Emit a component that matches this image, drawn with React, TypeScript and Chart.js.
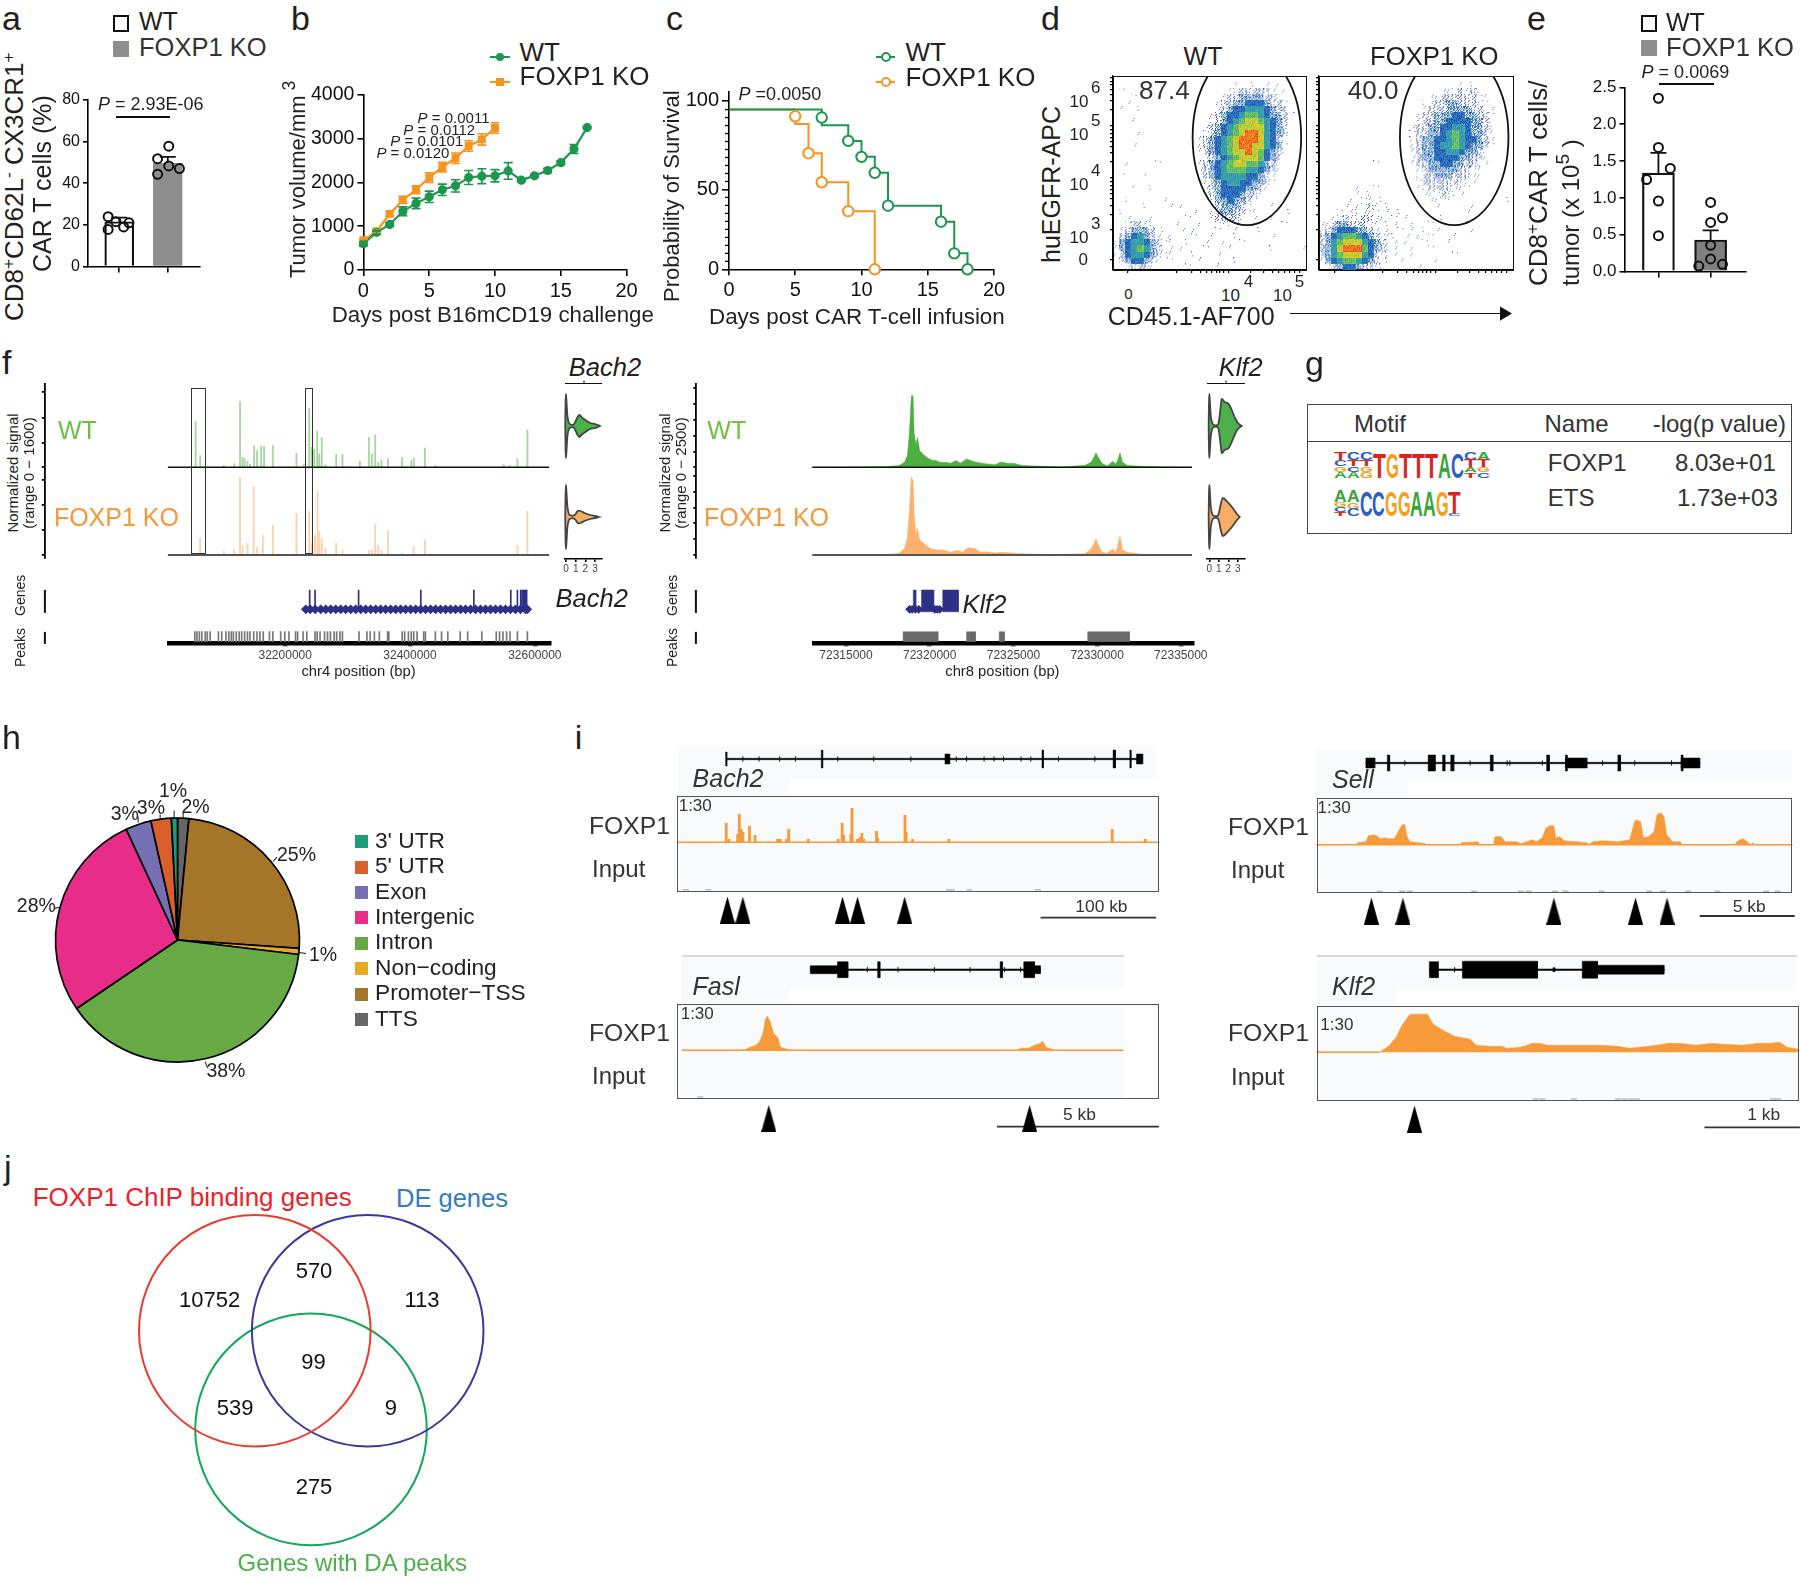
import React, { useEffect, useRef } from 'react';
import { Chart, registerables } from 'chart.js';
Chart.register(...registerables);

const FONT = '"Liberation Sans", Arial, Helvetica, sans-serif';
Chart.defaults.font.family = FONT;
document.body.style.margin = '0';

// ---------- panel a ----------
const aMeans = [21.5, 49.7];
const aErr = [2, 2.9];
const aWtX = [0.77, 0.93, 1.2, 1.09, 0.77];
const aWtY = [23.9, 21.5, 21, 19, 17.8];
const aKoX = [2.02, 1.79, 2.02, 2.24, 1.79];
const aKoY = [57.8, 51.8, 48.3, 47, 44.3];
// ---------- panel b ----------
const bDaysWt = [0, 1, 2, 3, 4, 5, 6, 7, 8, 9, 10, 11, 12, 13, 14, 15, 16, 17];
const bWt = [600, 860, 1040, 1340, 1520, 1670, 1830, 1920, 2110, 2140, 2150, 2260, 2050, 2150, 2270, 2450, 2760, 3250];
const bWtErr = [50, 40, 40, 100, 120, 130, 130, 140, 160, 170, 140, 190, 30, 30, 50, 40, 100, 20];
const bDaysKo = [0, 1, 2, 3, 4, 5, 6, 7, 8, 9, 10];
const bKo = [680, 880, 1280, 1600, 1830, 2110, 2350, 2550, 2830, 2980, 3240];
const bKoErr = [30, 30, 50, 80, 90, 110, 110, 120, 120, 130, 120];
// ---------- panel c ----------
const cWtStepX = [0, 7, 9, 10, 11, 12, 16, 17, 18];
const cWtStepY = [100, 90.2, 80.4, 70.4, 60.4, 39.8, 29.8, 10, 0];
const cWtMarkX = [7, 9, 10, 11, 12, 16, 17, 18];
const cWtMarkY = [95, 80.4, 70.4, 60.4, 39.8, 29.8, 10, 0];
const cKoStepX = [0, 5, 6, 7, 9, 11];
const cKoStepY = [100, 91, 72.7, 54.5, 36.4, 0];
const cKoMarkX = [5, 6, 7, 9, 11];
const cKoMarkY = [95.8, 72.7, 54.5, 36.4, 0];
const cMajorTicks = [0, 50, 105.4];
const cMinorTicks = [5, 10, 15, 20, 25, 30, 35, 40, 45, 55, 60, 65, 70, 75, 80, 85, 90, 95, 100];
// ---------- panel d: density level per cell, read by eye (32 x 32) ----------
const dWtRows = [
  '................................',
  '....................1..1.1.1....',
  '.1.................11222221.1...',
  '...1..............1223333221....',
  '..1..............122334443221...',
  '.1..1............123445554322...',
  '................1234456654332.1.',
  '...1............1234567765432...',
  '...............12345677775432...',
  '....1..........12345678875432...',
  '..............123456788875421...',
  '...1..........123456788775431...',
  '..............123456778764321...',
  '...............1234567776432....',
  '..1....1......12345677665321....',
  '..............12345666554321....',
  '.1...1........1234555544321.....',
  '...............123455443321.....',
  '...1..1........12344443321......',
  '...............1234443221.......',
  '..1.....1.......13343321....1...',
  '.....1...1.1.....233321...1.....',
  '.1...........1..12332211.....1..',
  '..1...1.....1...122221.1..1.....',
  '..12211...1...1..1111..1....1...',
  '.123332.1..1.1...1..1...1.......',
  '.2345321.1...1..1...1.....1.....',
  '1345543211..1..1..1..1..........',
  '1345653211.1...1...1......1....1',
  '1245543211...1...1..............',
  '.2344321.1....1.....1...........',
  '..12221.....1....1..............',
];
const dKoRows = [
  '................................',
  '.......................1.1......',
  '....................1112121.....',
  '..................1122222211....',
  '.................11223322211....',
  '.................122233332211...',
  '................1223334433221...',
  '................1223344443321...',
  '...............12233445543321...',
  '...............12233456543321...',
  '...............12334456544321...',
  '...............12334556543321...',
  '...............1233445543321....',
  '...............1233444433221....',
  '.........1.....1223344332211....',
  '................12333332211.....',
  '................12233322211.....',
  '................1222222111......',
  '......1..1......112222111.......',
  '......1.1........1112111........',
  '.....1.11.1.......1111.........1',
  '....1.1121.1.......1.....1......',
  '...1.11111.1.1..........1.......',
  '..112112211.1.1.....1...........',
  '1123322211.11..1..1.....1.......',
  '1234443321.1.1.1.1.1.....1......',
  '2345665432111.1.1.1...1.........',
  '2356777543211.1..1...1..........',
  '2357888643211..1..1.............',
  '2356777542111..1......1.........',
  '1345665432.1.1.....1............',
  '.1234432211.....1...............',
];
const dTickX = [2.5, 10.5, 13, 14.5, 15.6, 16.4, 17.1, 17.7, 18.4, 19.2, 22.8, 24.9, 26.4, 27.5, 28.5, 29.3, 30.1, 31];
const dTickY = [1.65, 6.6, 9.2, 10.7, 11.8, 12.6, 13.3, 13.9, 14.5, 15.2, 17.8, 19.3, 20.4, 21.2, 21.9, 22.5, 23.1, 23.8, 26.4, 27.9, 29, 29.8, 30.5, 31.1, 31.8];
// ---------- panel e ----------
const eMeans = [1.335, 0.427];
const eErr = [0.275, 0.13];
const eWtX = [1, 1, 1.227, 0.773, 1, 1];
const eWtY = [2.354, 1.685, 1.4, 1.248, 0.957, 0.485];
const eKoX = [2, 2.227, 2, 2, 1.773, 2, 2.227];
const eKoY = [0.937, 0.728, 0.665, 0.354, 0.073, 0.17, 0.097];
// ---------- panel f, Bach2 (kb on chr4) ----------
const fBachWtX = [32056.5, 32063.8, 32101.7, 32118.3, 32127.6, 32131.6, 32134.9, 32139.5, 32143.5, 32150.2, 32154.8, 32161.5, 32166.1, 32180.1, 32218, 32229.9, 32238.5, 32242.5, 32246.5, 32251.2, 32254.5, 32258.5, 32264.5, 32281.7, 32291.7, 32319.6, 32334.2, 32338.9, 32344.2, 32348.8, 32354.2, 32364.8, 32387.4, 32402, 32406, 32423.9, 32440.6, 32550.2, 32560.2, 32572.1, 32588.1];
const fBachWtY = [925, 236, 40, 68, 1330, 200, 170, 120, 54, 440, 338, 420, 420, 440, 284, 54, 1200, 405, 370, 740, 270, 608, 54, 256, 256, 120, 608, 270, 655, 100, 150, 170, 200, 135, 190, 390, 34, 54, 34, 170, 756];
const fBachKoX = [32063.8, 32101.7, 32118.3, 32127.6, 32131.6, 32139.5, 32149.5, 32154.8, 32164.1, 32180.1, 32218, 32238.5, 32242.5, 32247.8, 32251.8, 32254.5, 32258.5, 32264.5, 32281.7, 32291.7, 32334.2, 32338.9, 32344.2, 32348.8, 32354.2, 32364.8, 32387.4, 32406, 32423.9, 32572.1, 32588.1];
const fBachKoY = [338, 80, 100, 1566, 190, 236, 1384, 150, 405, 594, 844, 878, 236, 405, 1282, 472, 338, 135, 236, 100, 100, 100, 620, 200, 100, 506, 34, 170, 304, 190, 890];
const fBachPeaks = [32055.1, 32058.5, 32062.4, 32066.4, 32071.8, 32075.1, 32079.7, 32093, 32098.3, 32105, 32109.6, 32113.6, 32116.9, 32121.6, 32126.2, 32130.2, 32134.9, 32139.5, 32143.5, 32149.5, 32154.8, 32159.5, 32164.8, 32174.7, 32180.1, 32192.7, 32199.3, 32206, 32216.6, 32219.9, 32228.6, 32234.6, 32247.8, 32251.2, 32255.8, 32263.1, 32267.8, 32272.4, 32278.4, 32282.4, 32287.7, 32291.7, 32318.3, 32330.9, 32336.2, 32342.9, 32350.8, 32364.1, 32366.1, 32387.4, 32391.4, 32397.4, 32402, 32406, 32411.3, 32421.9, 32424.6, 32440.6, 32450.5, 32460.5, 32480.4, 32492.4, 32515, 32538.2, 32543.5, 32548.9, 32554.8, 32560.2, 32572.1, 32588.1];
const fBachExons = [32239.2, 32247.8, 32317.6, 32417.3, 32502.3, 32561.5, 32572.1, 32577.4, 32579.5, 32581.5, 32583.5, 32585.6, 32586.9];
const fBachGeneMarks = [32233, 32240, 32248, 32257, 32265, 32273, 32281, 32289, 32297, 32305, 32313, 32321, 32329, 32337, 32345, 32353, 32361, 32369, 32377, 32385, 32393, 32401, 32409, 32417, 32425, 32433, 32441, 32449, 32457, 32465, 32473, 32481, 32489, 32497, 32505, 32513, 32521, 32529, 32537, 32545, 32553, 32561, 32569, 32577, 32585, 32588];
const fBachTicks = [32200, 32400, 32600];
// ---------- panel f, Klf2 (kb on chr8) ----------
const fKlfWtX = [72312.98, 72315.61, 72317.32, 72318.17, 72318.49, 72318.66, 72318.78, 72318.9, 72319, 72319.07, 72319.17, 72319.27, 72319.39, 72319.63, 72319.88, 72320.12, 72320.37, 72320.61, 72320.98, 72321.22, 72321.59, 72321.83, 72322.2, 72322.56, 72322.93, 72323.42, 72323.9, 72324.27, 72324.63, 72325, 72325.49, 72326.1, 72326.83, 72327.81, 72328.54, 72329.27, 72329.63, 72329.81, 72329.93, 72330.07, 72330.29, 72330.61, 72330.93, 72331.1, 72331.22, 72331.37, 72331.51, 72331.83, 72332.68, 72334.15, 72335.68];
const fKlfWtY = [0, 10, 21, 53, 158, 368, 1053, 2264, 2264, 1053, 737, 948, 527, 400, 295, 232, 211, 158, 158, 126, 211, 126, 263, 190, 147, 105, 84, 168, 126, 126, 63, 42, 32, 10, 32, 63, 158, 316, 463, 316, 126, 42, 190, 105, 211, 463, 158, 53, 32, 10, 0];
const fKlfKoX = [72312.98, 72317.32, 72318.17, 72318.49, 72318.66, 72318.78, 72318.9, 72319, 72319.07, 72319.17, 72319.27, 72319.39, 72319.63, 72319.88, 72320.12, 72320.49, 72320.85, 72321.22, 72321.71, 72321.95, 72322.27, 72322.68, 72323.05, 72323.41, 72323.9, 72324.27, 72324.76, 72325.37, 72326.1, 72327.07, 72329.27, 72329.63, 72329.81, 72329.93, 72330.07, 72330.29, 72330.61, 72330.93, 72331.1, 72331.22, 72331.37, 72331.51, 72331.83, 72332.68, 72335.68];
const fKlfKoY = [0, 10, 53, 210, 525, 1365, 2468, 2363, 1260, 630, 861, 473, 368, 263, 189, 158, 158, 84, 147, 84, 231, 210, 84, 105, 63, 84, 74, 42, 32, 10, 42, 189, 368, 504, 315, 84, 53, 189, 84, 263, 609, 158, 84, 21, 0];
const fKlfPeakBlocks = [[72318.41, 72320.49], [72322.2, 72322.73], [72324.15, 72324.46], [72329.44, 72331.93]];
const fKlfGeneBlocks = [[72319.02, 72319.17], [72319.51, 72320.24], [72320.78, 72321.71]];
const fKlfGeneMarks = [72318.8, 72318.95, 72319.15, 72319.35, 72320.3, 72320.45, 72320.6];
const fKlfTicks = [72315, 72320, 72325, 72330, 72335];
// violins: expression level and half-width of the density
const vExpr = {
  bachWt: [[-0.08, 0], [-0.04, 25], [0, 32], [0.05, 25], [0.15, 10], [0.3, 3], [0.5, 1.5], [0.8, 1.5], [1, 5], [1.2, 9], [1.4, 11], [1.7, 8], [2, 6], [2.5, 3], [3, 2], [3.5, 0]],
  bachKo: [[-0.08, 0], [-0.04, 25], [0, 32], [0.05, 25], [0.15, 10], [0.3, 3], [0.5, 1.5], [0.8, 1.5], [1, 3], [1.2, 6], [1.5, 6], [1.9, 4], [2.5, 2], [3, 1], [3.4, 0]],
  klfWt: [[-0.08, 0], [-0.04, 25], [0, 32], [0.05, 25], [0.15, 10], [0.3, 3], [0.5, 1], [0.9, 1.5], [1.05, 8], [1.15, 16], [1.3, 27], [1.45, 26], [1.6, 24], [1.9, 23], [2.1, 21], [2.4, 15], [2.7, 8], [3, 3], [3.4, 0]],
  klfKo: [[-0.08, 0], [-0.04, 25], [0, 32], [0.05, 25], [0.15, 10], [0.3, 3], [0.5, 1], [0.9, 1.5], [1.05, 6], [1.2, 13], [1.4, 19], [1.6, 18], [1.9, 15], [2.2, 12], [2.6, 7], [2.9, 3], [3.2, 0]],
};
// ---------- panel h ----------
const pieLabels = ['TTS', 'Promoter−TSS', 'Non−coding', 'Intron', 'Intergenic', 'Exon', "5' UTR", "3' UTR"];
const pieValues = [1.5, 24.6, 0.8, 38.6, 27.6, 3.4, 2.7, 0.8];
const pieColors = ['#666666', '#a5762a', '#e6ab22', '#67a944', '#e72c8a', '#7570b3', '#d9602a', '#1b9e77'];
const legendOrder = [7, 6, 5, 4, 3, 2, 1, 0];
// ---------- panel i ----------
const iBachX = [42.8, 45.2, 52.7, 54.1, 55.8, 57.2, 63, 67.8, 87.3, 89.7, 94.9, 96.9, 113.7, 139.7, 143.2, 144.5, 150.7, 151.7, 156.5, 158.6, 160.3, 162, 172.9, 174, 197.6, 198.6, 204.1, 235.6, 377, 405.8];
const iBachY = [19, 3, 8, 28, 13, 10, 16, 7, 3, 3, 3, 13, 3, 3, 19, 7, 8, 34, 3, 5, 9, 3, 11, 4, 27, 10, 3, 3, 13, 3];
const iBachArrows = [43.8, 57.2, 143.5, 156.5, 197.3];
const iBachInput = [7.9, 27.4, 235.6, 238, 253.4, 312.7];
const iBachGene = [[42.3, 43.3, 7], [125.1, 126.3, 9], [232.2, 236.3, 5], [316.2, 317.4, 9], [377.8, 379.8, 9], [392.3, 393.3, 9], [398, 403.4, 5]];
const iBachChev = [57.2, 71.2, 89, 102.7, 139.4, 170.5, 202.7, 242, 250.9, 266.1, 274.7, 282.9, 298, 306.5, 330.5, 362];
const iFaslX = [0.15, 1.95, 2.13, 2.26, 2.44, 2.56, 2.66, 2.74, 2.8, 2.89, 2.99, 3.13, 3.2, 3.41, 3.48, 10.49, 10.61, 10.85, 11.04, 11.22, 11.3, 11.4, 11.59, 11.65, 13.78];
const iFaslY = [0, 0, 1, 3, 5, 9, 17, 32, 34, 28, 17, 12, 3, 1, 0, 0, 2, 2, 5, 7, 9, 3, 1, 0, 0];
const iFaslArrows = [2.84, 10.89];
const iFaslInput = [0.73];
const iFaslGene = [[4.12, 4.96, 4], [4.96, 5.28, 8], [6.2, 6.27, 8], [9.98, 10.05, 8], [10.71, 11.04, 8], [11.04, 11.22, 4]];
const iFaslChev = [5.88, 6.83, 7.95, 9.05, 10.12, 10.61];
const iSellX = [0, 2.11, 2.15, 2.6, 2.73, 3.07, 3.38, 3.59, 3.79, 4.1, 4.3, 4.51, 4.65, 4.77, 4.92, 5.43, 5.74, 5.84, 7.58, 7.62, 8.5, 8.61, 9.32, 9.39, 9.73, 9.94, 10.55, 10.76, 11.37, 11.58, 11.89, 12.09, 12.3, 12.5, 12.6, 12.81, 13.05, 14.24, 14.34, 14.55, 15.06, 15.88, 16.5, 16.7, 16.8, 17.07, 17.21, 17.48, 17.77, 17.93, 18.14, 18.3, 18.44, 18.75, 19.16, 19.28, 22.03, 22.13, 22.44, 22.68, 22.85, 22.99, 23.09, 25.06];
const iSellY = [0, 0, 2, 3, 9, 10, 6, 7, 6, 6, 13, 20, 20, 8, 3, 2, 1, 0, 0, 2, 3, 0, 0, 8, 8, 3, 3, 1, 5, 3, 7, 17, 19, 19, 7, 8, 4, 2, 0, 3, 4, 3, 5, 20, 25, 23, 7, 8, 13, 30, 32, 28, 10, 3, 3, 0, 0, 3, 6, 3, 0, 2, 0, 0];
const iSellArrows = [2.89, 4.55, 12.5, 16.8, 18.46];
const iSellInput = [3.32, 4.51, 4.92, 8.3, 10.76, 11.17, 12.56, 13.11, 15.02, 17.52, 18.24, 19.57, 21.11, 23.67, 24.28];
const iSellGene = [[2.6, 3.07, 5], [3.73, 3.85, 8], [5.88, 6.25, 8], [6.64, 6.76, 8], [7.07, 7.23, 8], [9.15, 9.29, 8], [12.12, 12.26, 8], [13.11, 14.24, 5], [13.11, 13.2, 8], [15.87, 16.01, 8], [19.2, 20.18, 5], [19.2, 19.29, 8]];
const iSellChev = [4.65, 8.09, 10.04, 10.18, 11.89, 15.06, 16.76, 18.69];
const iKlfX = [0, 0.659, 0.752, 0.833, 0.894, 0.976, 1.159, 1.22, 1.321, 1.443, 1.606, 1.667, 1.809, 1.931, 1.992, 2.134, 2.256, 2.337, 2.419, 2.581, 2.744, 2.988, 3.15, 3.272, 3.557, 3.679, 3.801, 3.963, 4.126, 4.248, 4.451, 4.614, 4.736, 4.837, 4.919, 5.041];
const iKlfY = [0, 0, 6, 15, 27, 38, 38, 28, 22, 16, 13, 7, 6, 6, 4, 5, 9, 9, 7, 7, 7, 7, 6, 4, 7, 9, 9, 7, 9, 8, 7, 9, 9, 10, 5, 3];
const iKlfArrows = [1.024];
const iKlfInput = [2.29, 2.36, 2.69, 3.15, 3.22, 3.29, 3.35, 4.77, 4.82];
const iKlfGene = [[1.179, 1.272, 8], [1.524, 2.309, 8.5], [2.776, 2.935, 8.5], [2.935, 3.63, 4.5], [2.47, 2.49, 2]];
const iKlfChev = [1.443];
// ---------- panel j ----------
const vennX = [134.8, 247.7, 191];
const vennY = [229.3, 229.3, 130.6];
const vennR = [115.8, 115.8, 115.8];
const vennColors = ['#ee3a2e', '#3b3a98', '#12a85a'];
const vennCounts = ['10752', '570', '113', '99', '539', '9', '275'];

// ---------- helpers ----------
const pts = (x: number[], y: number[]) => x.map((v, i) => ({ x: v, y: y[i] }));

function ax(o: any) {
  const { min, max, vals, size = 0, len = 6, bw = 1.6, fmt, pad = 3, color = '#111' } = o;
  return {
    type: 'linear', min, max, offset: false,
    border: { color: '#000', width: bw },
    grid: { offset: false, drawOnChartArea: false, drawTicks: true, tickLength: len, color: '#000', lineWidth: bw, tickColor: '#000', tickWidth: bw },
    ticks: { display: size > 0, color, font: { size, family: FONT }, padding: pad, autoSkip: false, maxRotation: 0, minRotation: 0, callback: fmt || ((v: number) => String(v)) },
    afterBuildTicks: (s: any) => { s.ticks = vals.map((v: number) => ({ value: v })); },
  };
}
const hid = (min: number, max: number) => ({ type: 'linear', display: false, min, max, offset: false });

function errPlugin(sets: any[]) {
  return {
    id: 'err',
    afterDatasetsDraw(c: any) {
      const { ctx, scales: { x, y } } = c;
      sets.forEach((s) => {
        ctx.save(); ctx.strokeStyle = s.color; ctx.lineWidth = s.w;
        s.x.forEach((xv: number, i: number) => {
          const px = x.getPixelForValue(xv);
          const hi = y.getPixelForValue(s.y[i] + s.e[i]);
          const lo = y.getPixelForValue(s.up ? s.y[i] : s.y[i] - s.e[i]);
          ctx.beginPath(); ctx.moveTo(px, hi); ctx.lineTo(px, lo);
          ctx.moveTo(px - s.cap, hi); ctx.lineTo(px + s.cap, hi);
          if (!s.up) { ctx.moveTo(px - s.cap, lo); ctx.lineTo(px + s.cap, lo); }
          ctx.stroke();
        });
        ctx.restore();
      });
    },
  };
}
function minorPlugin(vals: number[], len: number) {
  return {
    id: 'minor',
    afterDraw(c: any) {
      const { ctx, scales: { y } } = c;
      ctx.save(); ctx.strokeStyle = '#000'; ctx.lineWidth = 1.3;
      vals.forEach((v) => { const p = y.getPixelForValue(v); ctx.beginPath(); ctx.moveTo(y.right, p); ctx.lineTo(y.right - len, p); ctx.stroke(); });
      ctx.restore();
    },
  };
}
function ellipsePlugin(cx: number, cy: number, rx: number, ry: number) {
  return {
    id: 'gate',
    afterDatasetsDraw(c: any) {
      const { ctx, chartArea: a, scales: { x, y } } = c;
      ctx.save(); ctx.beginPath(); ctx.rect(a.left, a.top, a.width, a.height); ctx.clip();
      ctx.beginPath();
      ctx.ellipse(x.getPixelForValue(cx), y.getPixelForValue(cy), Math.abs(x.getPixelForValue(cx + rx) - x.getPixelForValue(cx)), Math.abs(y.getPixelForValue(cy + ry) - y.getPixelForValue(cy)), 0, 0, Math.PI * 2);
      ctx.strokeStyle = '#111'; ctx.lineWidth = 1.8; ctx.stroke(); ctx.restore();
    },
  };
}

function Plot({ area, pad = [0, 0, 0, 0], make, blur }: any) {
  const ref = useRef<HTMLCanvasElement>(null);
  const [l, t, r, b] = area;
  const cl = Math.floor(l - pad[0]), ct = Math.floor(t - pad[1]);
  const cw = Math.ceil(r + pad[2]) - cl, ch = Math.ceil(b + pad[3]) - ct;
  useEffect(() => {
    const cfg = make();
    const pl = l - cl, pt = t - ct, pr = cl + cw - r, pb = ct + ch - b;
    const sc = cfg.options.scales || {};
    let hasX = false, hasY = false;
    for (const k in sc) {
      const s = sc[k];
      if (s.display === false) continue;
      if (k.startsWith('x')) { s.afterFit = (a: any) => { a.height = pb; }; hasX = true; }
      else { s.afterFit = (a: any) => { a.width = pl; }; hasY = true; }
    }
    cfg.options.layout = { autoPadding: false, padding: { left: hasY ? 0 : pl, right: pr, top: pt, bottom: hasX ? 0 : pb } };
    cfg.options.responsive = false;
    cfg.options.animation = false;
    cfg.options.devicePixelRatio = 1;
    cfg.options.events = [];
    cfg.options.plugins = { ...(cfg.options.plugins || {}), legend: { display: false }, tooltip: { enabled: false } };
    const c = new Chart(ref.current as any, cfg);
    return () => c.destroy();
  }, []);
  return <canvas ref={ref} width={cw} height={ch} style={{ position: 'absolute', left: cl, top: ct, width: cw, height: ch, filter: blur ? `blur(${blur}px)` : undefined }} />;
}

function T({ x, y, s = 20, c = '#231f20', it, b, r = 0, a = 'start', children }: any) {
  return (
    <div style={{ position: 'absolute', left: x, top: y, width: 0, height: 0, transform: r ? `rotate(${r}deg)` : undefined, transformOrigin: '0 0' }}>
      <span style={{ position: 'absolute', left: 0, top: -0.905 * s, whiteSpace: 'nowrap', fontFamily: FONT, fontSize: s, fontStyle: it ? 'italic' : 'normal', fontWeight: b ? 700 : 400, lineHeight: `${1.117 * s}px`, color: c, transform: a === 'middle' ? 'translateX(-50%)' : a === 'end' ? 'translateX(-100%)' : undefined }}>{children}</span>
    </div>
  );
}
const Sup = ({ children, k = 0.66, up = 0.55 }: any) => <span style={{ fontSize: `${k}em`, position: 'relative', top: `${-up}em`, lineHeight: 0 }}>{children}</span>;
const I = ({ children }: any) => <span style={{ fontStyle: 'italic' }}>{children}</span>;
function L({ x1, y1, x2, y2, w = 1.6, c = '#111' }: any) {
  const len = Math.hypot(x2 - x1, y2 - y1), ang = (Math.atan2(y2 - y1, x2 - x1) * 180) / Math.PI;
  return <div style={{ position: 'absolute', left: x1, top: y1 - w / 2, width: len, height: w, background: c, transform: `rotate(${ang}deg)`, transformOrigin: `0 ${w / 2}px` }} />;
}
function R({ x, y, w, h, fill, stroke, sw = 1.5, round }: any) {
  return <div style={{ position: 'absolute', left: x, top: y, width: w, height: h, boxSizing: 'border-box', background: fill || 'transparent', border: stroke ? `${sw}px solid ${stroke}` : undefined, borderRadius: round ? '50%' : undefined }} />;
}
const LETTER_W: any = { A: 0.722, C: 0.722, G: 0.778, T: 0.611 };
const LETTER_C: any = { A: '#38a53c', C: '#2b5fc0', G: '#f0a020', T: '#d7261e' };
function Logo({ x, y, h, cw, cols }: any) {
  const out: any[] = [];
  cols.forEach((col: any[], i: number) => {
    let acc = 0;
    col.forEach(([ch, f]: any, j: number) => {
      acc += f;
      const lh = f * h, sy = lh / (0.716 * 20), sx = cw / (LETTER_W[ch] * 20);
      out.push(
        <div key={`${i}-${j}`} style={{ position: 'absolute', left: x + i * cw, top: y + acc * h, width: 0, height: 0, transform: `scale(${sx},${sy})`, transformOrigin: '0 0' }}>
          <span style={{ position: 'absolute', left: 0, top: -18.1, fontFamily: FONT, fontWeight: 700, fontSize: 20, lineHeight: '22.34px', color: LETTER_C[ch] }}>{ch}</span>
        </div>,
      );
    });
  });
  return <>{out}</>;
}
const logoFoxp1 = [
  [['T', 0.3], ['C', 0.25], ['G', 0.22], ['A', 0.23]], [['C', 0.3], ['T', 0.25], ['C', 0.22], ['A', 0.23]], [['C', 0.3], ['T', 0.25], ['G', 0.22], ['G', 0.23]],
  [['T', 1]], [['G', 1]], [['T', 1]], [['T', 1]], [['T', 1]], [['A', 1]], [['C', 1]],
  [['C', 0.3], ['T', 0.3], ['A', 0.2], ['T', 0.2]], [['A', 0.3], ['T', 0.3], ['G', 0.2], ['C', 0.2]],
];
const logoEts = [
  [['A', 0.45], ['G', 0.2], ['C', 0.2], ['T', 0.15]], [['A', 0.45], ['G', 0.25], ['C', 0.3]], [['C', 1]], [['C', 1]], [['G', 1]], [['G', 1]], [['A', 1]], [['A', 1]], [['G', 1]], [['T', 0.9], ['C', 0.1]],
];

// ---------- chart configurations ----------
function barDots(opts: any) {
  const { ymax, yvals, size, xmin, xmax, means, err, wtX, wtY, koX, koY, thick, fmt, koFill, koBorder, koW } = opts;
  return {
    type: 'bar',
    data: {
      datasets: [
        { type: 'scatter', data: pts(wtX, wtY), pointRadius: 4.5, borderColor: '#111', borderWidth: 2, backgroundColor: 'rgba(0,0,0,0)', clip: false },
        { type: 'scatter', data: pts(koX, koY), pointRadius: 4.5, borderColor: '#111', borderWidth: 2, backgroundColor: 'rgba(0,0,0,0)', clip: false },
        { type: 'bar', data: pts([1, 2], means), barThickness: thick, backgroundColor: ['#fff', koFill], borderColor: ['#111', koBorder], borderWidth: koW, borderSkipped: 'bottom' },
      ],
    },
    options: { scales: { x: ax({ min: xmin, max: xmax, vals: [1, 2], size: 0, len: 6 }), y: ax({ min: 0, max: ymax, vals: yvals, size, fmt, len: 5 }) } },
    plugins: [errPlugin([{ x: [1, 2], y: means, e: err, up: true, color: '#111', w: 1.8, cap: 8 }])],
  };
}
const cfgA = () => barDots({ ymax: 80, yvals: [0, 20, 40, 60, 80], size: 16, xmin: 0.355, xmax: 2.654, means: aMeans, err: aErr, wtX: aWtX, wtY: aWtY, koX: aKoX, koY: aKoY, thick: 29, koFill: '#8e8e8e', koBorder: '#8e8e8e', koW: 2.2 });
const cfgE = () => barDots({ ymax: 2.5, yvals: [0, 0.5, 1, 1.5, 2, 2.5], size: 17, xmin: 0.35, xmax: 2.672, means: eMeans, err: eErr, wtX: eWtX, wtY: eWtY, koX: eKoX, koY: eKoY, thick: 32, fmt: (v: number) => v.toFixed(1), koFill: '#808080', koBorder: '#111', koW: 2.2 });
const GREEN = '#1d964f', ORANGE = '#f7941d';
const cfgB = () => ({
  type: 'line',
  data: {
    datasets: [
      { data: pts(bDaysWt, bWt), borderColor: GREEN, backgroundColor: GREEN, borderWidth: 2.2, pointRadius: 3.5, pointStyle: 'circle', tension: 0, clip: false },
      { data: pts(bDaysKo, bKo), borderColor: ORANGE, backgroundColor: ORANGE, borderWidth: 2.2, pointRadius: 4, pointStyle: 'rect', tension: 0, clip: false },
    ],
  },
  options: { scales: { x: ax({ min: 0, max: 20, vals: [0, 5, 10, 15, 20], size: 20, len: 6 }), y: ax({ min: 0, max: 4000, vals: [0, 1000, 2000, 3000, 4000], size: 19.5, len: 6 }) } },
  plugins: [errPlugin([
    { x: bDaysKo, y: bKo, e: bKoErr, color: ORANGE, w: 1.6, cap: 4.5 },
    { x: bDaysWt, y: bWt, e: bWtErr, color: GREEN, w: 1.6, cap: 4.5 },
  ])],
});
const cfgC = () => ({
  type: 'line',
  data: {
    datasets: [
      { type: 'scatter', data: pts(cWtMarkX, cWtMarkY), pointRadius: 5.2, borderColor: GREEN, borderWidth: 2, backgroundColor: '#fff', clip: false },
      { type: 'scatter', data: pts(cKoMarkX, cKoMarkY), pointRadius: 5.2, borderColor: ORANGE, borderWidth: 2, backgroundColor: '#fff', clip: false },
      { data: pts(cWtStepX, cWtStepY), stepped: true, borderColor: GREEN, borderWidth: 2, pointRadius: 0, clip: false },
      { data: pts(cKoStepX, cKoStepY), stepped: true, borderColor: ORANGE, borderWidth: 2, pointRadius: 0, clip: false },
    ],
  },
  options: {
    scales: {
      x: ax({ min: 0, max: 20, vals: [0, 5, 10, 15, 20], size: 20, len: 6 }),
      y: ax({ min: 0, max: 111, vals: cMajorTicks, size: 20, len: 7, fmt: (v: number) => (v > 100 ? '100' : String(v)) }),
    },
  },
  plugins: [minorPlugin(cMinorTicks, 4)],
});
const dLevels: any = { 1: [2, '#4a63c4', '#4a63c4'], 2: [8, '#3550b8', '#3550b8'], 3: [20, '#2a4ab4', '#2f8fc0'], 4: [32, '#2f86c0', '#2a4ab4'], 5: [36, '#38b398', '#3a86c8'], 6: [36, '#8ccb48', '#3ab090'], 7: [36, '#f0cc28', '#90cc40'], 8: [36, '#ee4a20', '#f0a020'] };
const dither = [14, 3, 27, 9, 32, 19, 6, 24, 0, 35, 12, 29, 17, 4, 22, 33, 8, 26, 1, 15, 30, 11, 20, 5, 34, 13, 25, 2, 18, 31, 7, 23, 10, 28, 16, 21];
function tile(level: number, v: number) {
  const [n, c1, c2] = dLevels[level];
  const cv = document.createElement('canvas'); cv.width = 7; cv.height = 7;
  const g = cv.getContext('2d') as any;
  if (n >= 32) { g.fillStyle = c1; g.fillRect(0, 0, 7, 7); }
  for (let i = 0; i < n; i++) { const p = (dither[i] + v * 11) % 36; g.fillStyle = i % 2 === 1 ? c2 : c1; g.fillRect(p % 6, Math.floor(p / 6), 1, 1); }
  return cv;
}
const cfgD = (rows: string[], gate: number[]) => () => {
  const datasets: any[] = [];
  for (let lv = 8; lv >= 1; lv--) {
    const data: any[] = [];
    rows.forEach((row, r) => row.split('').forEach((ch, col) => { if (ch === String(lv)) data.push({ x: col + 0.5, y: 31.5 - r }); }));
    const tiles = [0, 1, 2, 3, 4].map((v) => tile(lv, v));
    datasets.push({ data, pointStyle: (ctx: any) => tiles[(ctx.dataIndex * 7) % 5], pointRadius: 3, showLine: false, clip: false });
  }
  return {
    type: 'scatter',
    data: { datasets },
    options: { scales: { x: ax({ min: 0, max: 32, vals: dTickX, len: 3, bw: 1.2 }), y: ax({ min: 0, max: 32, vals: dTickY, len: 3, bw: 1.2 }) } },
    plugins: [ellipsePlugin(gate[0], gate[1], gate[2], gate[3])],
  };
};
function violinDs(half: number[][], yAxisID: string, fill: string) {
  const top = half.map(([x, d]) => ({ x, y: d }));
  const bot = half.slice().reverse().map(([x, d]) => ({ x, y: -d }));
  return { type: 'line', data: top.concat(bot), yAxisID, borderColor: '#444', borderWidth: 1.8, backgroundColor: fill, fill: 'shape', pointRadius: 0, tension: 0.25, clip: false };
}
const cfgViolin = (w: number[][], k: number[][], xmin: number, xmax: number) => () => ({
  type: 'line',
  data: { datasets: [violinDs(w, 'yW', '#4db04a'), violinDs(k, 'yK', '#f7ad66')] },
  options: { scales: { x: ax({ min: xmin, max: xmax, vals: [0, 1, 2, 3], size: 10, len: 3, pad: 1, color: '#444' }), yW: hid(-133, 40), yK: hid(-42, 131) } },
});
function track(cfg: any) {
  const { type, xmin, xmax, start, end, wt, ko, yMax, yMin, yWMax, yWMin, ticks, wtC, koC, bar } = cfg;
  const base = (yAxisID: string, c: string, w: number) => ({ type: 'line', data: [{ x: start, y: 0 }, { x: end, y: 0 }], borderColor: c, borderWidth: w, pointRadius: 0, yAxisID });
  const sig = (d: any, id: string, c: string) => bar
    ? { type: 'bar', data: d, yAxisID: id, backgroundColor: c, barThickness: 1.2, grouped: false }
    : { type: 'line', data: d, yAxisID: id, backgroundColor: c, borderColor: c, borderWidth: 0.5, fill: 'origin', pointRadius: 0, tension: 0 };
  return {
    type,
    data: { datasets: [base('yW', '#111', 1.5), base('y', '#555', 1.8), sig(wt, 'yW', wtC), sig(ko, 'y', koC)] },
    options: { scales: { x: hid(xmin, xmax), y: ax({ min: yMin, max: yMax, vals: ticks, len: 3, bw: 1.8 }), yW: hid(yWMin, yWMax) } },
  };
}
const cfgBachTrack = () => track({ type: 'bar', bar: true, xmin: 31814.7, xmax: 32623.2, start: 32012, end: 32623.2, wt: pts(fBachWtX, fBachWtY), ko: pts(fBachKoX, fBachKoY), yMax: 3477, yMin: -61, yWMax: 1701, yWMin: -1837, ticks: [0, 506, 1012, 1518, 1776, 2274, 2780, 3294], wtC: 'rgba(80,175,65,0.5)', koC: 'rgba(250,165,90,0.5)' });
const cfgKlfTrack = () => track({ type: 'line', bar: false, xmin: 72306.05, xmax: 72335.68, start: 72312.98, end: 72335.68, wt: pts(fKlfWtX, fKlfWtY), ko: pts(fKlfKoX, fKlfKoY), yMax: 5426, yMin: -95, yWMax: 2654, yWMin: -2866, ticks: [0, 500, 1000, 1500, 2000, 2500, 2771, 3271, 3771, 4271, 4771, 5271], wtC: '#4cae3f', koC: '#fbb06f' });
const NAVY = '#2e2f86';
const xAxisKb = (min: number, max: number, vals: number[]) => ({ ...ax({ min, max, vals, size: 12, len: 3, bw: 4.5, pad: 2, color: '#444', fmt: (v: number) => String(Math.round(v * 1000)) }) });
function blockDs(a: number, b: number, lo: number, hi: number, c: string, yAxisID = 'y') {
  return { type: 'line', data: [{ x: a, y: lo }, { x: a, y: hi }, { x: b, y: hi }, { x: b, y: lo }, { x: a, y: lo }], fill: 'shape', backgroundColor: c, borderColor: c, borderWidth: 0.5, pointRadius: 0, tension: 0, yAxisID };
}
const yHidden = { ...hid(0, 1) };
const cfgBachLower = () => ({
  type: 'bar',
  data: {
    datasets: [
      { type: 'line', data: fBachGeneMarks.map((x) => ({ x, y: 0.583 })), borderColor: NAVY, backgroundColor: NAVY, borderWidth: 2, pointStyle: 'rectRot', pointRadius: 3.4, tension: 0 },
      { type: 'bar', data: fBachExons.map((x) => ({ x, y: [0.583, 0.914] })), backgroundColor: NAVY, barThickness: 1, grouped: false },
      { type: 'bar', data: fBachPeaks.map((x) => ({ x, y: [0.027, 0.199] })), backgroundColor: '#777', barThickness: 1, grouped: false },
    ],
  },
  options: { scales: { x: xAxisKb(32012, 32623.2, fBachTicks), y: { ...yHidden } } },
});
const cfgKlfLower = () => ({
  type: 'line',
  data: {
    datasets: [
      { type: 'line', data: fKlfGeneMarks.map((x) => ({ x, y: 0.583 })), borderColor: NAVY, backgroundColor: NAVY, borderWidth: 2, pointStyle: 'rectRot', pointRadius: 3, tension: 0 },
      ...fKlfGeneBlocks.map(([a, b]) => blockDs(a, b, 0.54, 0.914, NAVY)),
      ...fKlfPeakBlocks.map(([a, b]) => blockDs(a, b, 0.027, 0.199, '#6b6b6b')),
    ],
  },
  options: { scales: { x: xAxisKb(72312.98, 72335.68, fKlfTicks), y: { ...yHidden } } },
});
function triangle() {
  const cv = document.createElement('canvas'); cv.width = 15; cv.height = 27;
  const g = cv.getContext('2d') as any; g.fillStyle = '#000';
  g.beginPath(); g.moveTo(7.5, 0); g.lineTo(15, 27); g.lineTo(0, 27); g.closePath(); g.fill();
  return cv;
}
const ORANGE_I = '#f79a3a';
function igv(o: any) {
  const { area, xmax, basePx, genePx, arrowPx, barPx, boxBottom, input, sigX, sigY, bar, line, arrows, scale, gene, chev, axisGene } = o;
  const [, t, , b] = area;
  const datasets: any[] = [
    { type: 'scatter', data: arrows.map((x: number) => ({ x, y: basePx - arrowPx })), pointStyle: triangle(), pointRadius: 5, yAxisID: 'y', clip: false },
    { type: 'line', data: scale.map((x: number) => ({ x, y: basePx - barPx })), borderColor: '#333', borderWidth: 1.8, pointRadius: 0, yAxisID: 'y' },
    { type: 'scatter', data: input.map((x: number) => ({ x, y: basePx - boxBottom + 2 })), pointStyle: 'line', pointRadius: 3, borderColor: '#bdbdbd', borderWidth: 1.5, yAxisID: 'y' },
    { type: 'scatter', data: chev.map((x: number) => ({ x, y: 0 })), pointStyle: 'line', pointRotation: 90, pointRadius: 2.6, borderColor: '#111', borderWidth: 1, yAxisID: 'yg' },
    ...gene.map(([a, c, h]: number[]) => blockDs(a, c, -h, h, '#000', 'yg')),
    blockDs(axisGene[0], axisGene[1], -0.7, 0.7, '#000', 'yg'),
    { type: 'line', data: line.map((x: number) => ({ x, y: 0 })), borderColor: ORANGE_I, borderWidth: 1.5, pointRadius: 0, yAxisID: 'y' },
  ];
  if (bar) datasets.push({ type: 'bar', data: pts(sigX, sigY), backgroundColor: ORANGE_I, barThickness: 2.2, grouped: false, yAxisID: 'y' });
  else datasets.push({ type: 'line', data: pts(sigX, sigY), borderColor: ORANGE_I, backgroundColor: ORANGE_I, borderWidth: 0.5, fill: 'origin', pointRadius: 0, tension: 0, yAxisID: 'y' });
  return { type: 'line', data: { datasets }, options: { scales: { x: hid(0, xmax), y: hid(basePx - b, basePx - t), yg: hid(genePx - b, genePx - t) } } };
}
const AREA_I = { bach: [676.8, 746, 1159.2, 930], fasl: [676.8, 956, 1159.2, 1140], sell: [1316.5, 750, 1796, 930], klf: [1316.5, 956, 1800, 1140] };
const cfgIBach = () => igv({ area: AREA_I.bach, xmax: 417.7, basePx: 842.3, genePx: 759, arrowPx: 910, barPx: 917.7, boxBottom: 891.7, input: iBachInput, sigX: iBachX, sigY: iBachY, bar: true, line: [0.6, 417], arrows: iBachArrows, scale: [315, 415], gene: iBachGene, chev: iBachChev, axisGene: [42.8, 402.4] });
const cfgIFasl = () => igv({ area: AREA_I.fasl, xmax: 14.89, basePx: 1050.3, genePx: 969.7, arrowPx: 1118.3, barPx: 1126.7, boxBottom: 1099, input: iFaslInput, sigX: iFaslX, sigY: iFaslY, line: [0.15, 13.78], arrows: iFaslArrows, scale: [9.88, 14.88], gene: iFaslGene, chev: iFaslChev, axisGene: [4.12, 11.22] });
const cfgISell = () => igv({ area: AREA_I.sell, xmax: 25.25, basePx: 844.7, genePx: 763, arrowPx: 911, barPx: 916, boxBottom: 893.3, input: iSellInput, sigX: iSellX, sigY: iSellY, line: [0, 25.06], arrows: iSellArrows, scale: [20.18, 25.18], gene: iSellGene, chev: iSellChev, axisGene: [2.6, 20.18] });
const cfgIKlf = () => igv({ area: AREA_I.klf, xmax: 5.051, basePx: 1052.3, genePx: 969.7, arrowPx: 1119, barPx: 1127.3, boxBottom: 1101, input: iKlfInput, sigX: iKlfX, sigY: iKlfY, line: [0, 0.66], arrows: iKlfArrows, scale: [4.053, 5.05], gene: iKlfGene, chev: iKlfChev, axisGene: [1.179, 3.63] });
const cfgPie = () => ({
  type: 'pie',
  data: { labels: pieLabels, datasets: [{ data: pieValues, backgroundColor: pieColors, borderColor: '#000', borderWidth: 1.7 }] },
  options: { radius: 122, rotation: 0 },
});
const cfgVenn = () => ({
  type: 'bubble',
  data: { datasets: vennX.map((x, i) => ({ data: [{ x, y: vennY[i], r: vennR[i] }], borderColor: vennColors[i], backgroundColor: 'rgba(0,0,0,0)', borderWidth: 2, clip: false })) },
  options: { scales: { x: hid(0, 380), y: hid(0, 360) } },
});

const BG = '#f9fafc';
function IgvBack({ x1, x2, y1, y2, lx, ly, bx1, bx2, bt, bb, top }: any) {
  return (
    <>
      <R x={x1} y={y1} w={x2 - x1} h={y2 - y1} fill={BG} />
      <R x={x1} y={y2} w={lx - x1} h={ly - y2} fill={BG} />
      <R x={bx1} y={bt} w={bx2 - bx1} h={bb - bt} fill={BG} />
      {top ? <L x1={x1} y1={y1} x2={x2} y2={y1} w={1.2} c="#d8d8d8" /> : null}
    </>
  );
}
function IgvLabels({ nx, ny, name, lx, fy, iy, tx, ty }: any) {
  return (
    <>
      <T x={nx} y={ny} s={25} it c="#333">{name}</T>
      <T x={lx} y={fy} s={24.7} c="#333">FOXP1</T>
      <T x={lx + 3} y={iy} s={24} c="#333">Input</T>
      <T x={tx} y={ty} s={17} c="#333">1:30</T>
    </>
  );
}

export default function App() {
  return (
    <div style={{ position: 'relative', width: 1800, height: 1579, background: '#fff', overflow: 'hidden' }}>
      {/* a */}
      <Plot area={[88, 99.9, 199.5, 266.5]} pad={[45, 14, 10, 20]} make={cfgA} />
      <T x={2} y={30} s={34}>a</T>
      <R x={113} y={15} w={16} h={17} stroke="#111" sw={2} />
      <T x={139} y={31} s={25}>WT</T>
      <R x={113} y={41} w={16} h={16} fill="#8e8e8e" />
      <T x={139} y={56} s={25.5} c="#333">FOXP1 KO</T>
      <T x={24} y={321} s={26} r={-90}>CD8<Sup>+</Sup>CD62L<Sup>-</Sup> CX3CR1<Sup>+</Sup></T>
      <T x={52} y={272} s={25} r={-90}>CAR T cells (%)</T>
      <T x={98} y={110.7} s={18}><I>P</I> = 2.93E-06</T>
      <L x1={116} y1={117} x2={170} y2={117} w={1.8} />
      {/* b */}
      <Plot area={[363.4, 94.3, 626.6, 270]} pad={[60, 14, 20, 34]} make={cfgB} />
      <T x={291} y={30} s={34}>b</T>
      <L x1={490} y1={57.3} x2={510} y2={57.3} w={2.2} c={GREEN} />
      <R x={496} y={53.3} w={8} h={8} fill={GREEN} round />
      <T x={519.5} y={61.7} s={26}>WT</T>
      <L x1={490} y1={81.7} x2={510} y2={81.7} w={2.2} c={ORANGE} />
      <R x={496} y={77.7} w={8} h={8} fill={ORANGE} />
      <T x={519.5} y={86} s={26}>FOXP1 KO</T>
      <T x={305.7} y={278} s={22} r={-90}>Tumor volume/mm<Sup k={0.8}> 3</Sup></T>
      <T x={331.7} y={323.3} s={22.3}>Days post B16mCD19 challenge</T>
      <T x={417.6} y={123.3} s={15}><I>P</I> = 0.0011</T>
      <T x={403.3} y={135.7} s={15}><I>P</I> = 0.0112</T>
      <T x={390.3} y={147} s={15}><I>P</I> = 0.0101</T>
      <T x={376.4} y={158.3} s={15}><I>P</I> = 0.0120</T>
      {/* c */}
      <Plot area={[729, 91.3, 994, 269.3]} pad={[45, 14, 20, 34]} make={cfgC} />
      <T x={666} y={30} s={34}>c</T>
      <L x1={875.6} y1={57.3} x2={895} y2={57.3} w={2} c={GREEN} />
      <R x={880.5} y={52.3} w={10} h={10} fill="#fff" stroke={GREEN} sw={2} round />
      <T x={905.4} y={61.7} s={26}>WT</T>
      <L x1={875.6} y1={81.7} x2={895} y2={81.7} w={2} c={ORANGE} />
      <R x={880.5} y={76.7} w={10} h={10} fill="#fff" stroke={ORANGE} sw={2} round />
      <T x={905.4} y={87} s={26}>FOXP1 KO</T>
      <T x={680} y={302} s={22} r={-90}>Probability of Survival</T>
      <T x={709} y={324} s={22.4}>Days post CAR T-cell infusion</T>
      <T x={738.6} y={100.7} s={18}><I>P</I> =0.0050</T>
      {/* d */}
      <Plot area={[1113, 76, 1306, 270]} pad={[6, 2, 2, 6]} blur={0.4} make={cfgD(dWtRows, [22.2, 21.9, 9, 14.5])} />
      <Plot area={[1319, 76, 1513, 270]} pad={[6, 2, 2, 6]} blur={0.4} make={cfgD(dKoRows, [22.3, 21.9, 8.95, 14.5])} />
      <R x={1112.5} y={75.5} w={194} h={195} stroke="#111" sw={1.5} />
      <R x={1318.5} y={75.5} w={195} h={195} stroke="#111" sw={1.5} />
      <T x={1041} y={30} s={34}>d</T>
      <T x={1203} y={65.4} s={25} a="middle">WT</T>
      <T x={1370} y={65.4} s={25.7}>FOXP1 KO</T>
      <T x={1139} y={99.3} s={26} c="#333">87.4</T>
      <T x={1347.8} y={99.3} s={26} c="#333">40.0</T>
      <T x={1060.7} y={263} s={25} r={-90}>huEGFR-APC</T>
      {[['6', 107.3], ['5', 140], ['4', 190], ['3', 243]].map(([p, y]: any) => (
        <React.Fragment key={p}>
          <T x={1069.6} y={y} s={17}>10</T>
          <T x={1091} y={y - 14} s={17}>{p}</T>
        </React.Fragment>
      ))}
      <T x={1078.6} y={265} s={17}>0</T>
      <T x={1128.3} y={300} s={15} a="middle">0</T>
      <T x={1221} y={301.8} s={17}>10</T>
      <T x={1243.7} y={287.5} s={17}>4</T>
      <T x={1273} y={301.8} s={17}>10</T>
      <T x={1294.7} y={287.5} s={17}>5</T>
      <T x={1107.8} y={326} s={25}>CD45.1-AF700</T>
      <L x1={1290} y1={313.6} x2={1502} y2={313.6} w={1.8} />
      <div style={{ position: 'absolute', left: 1500, top: 306.4, width: 12, height: 14.4, background: '#111', clipPath: 'polygon(0 0,100% 50%,0 100%)' }} />
      {/* e */}
      <Plot area={[1624.5, 87.5, 1745.7, 271.4]} pad={[45, 14, 10, 16]} make={cfgE} />
      <T x={1527} y={29.3} s={34}>e</T>
      <R x={1641} y={15} w={16} h={16.5} stroke="#111" sw={2} />
      <T x={1666} y={31.4} s={25}>WT</T>
      <R x={1641} y={40.4} w={16} h={16} fill="#8e8e8e" />
      <T x={1666} y={56.4} s={25.6} c="#333">FOXP1 KO</T>
      <T x={1641.6} y={78} s={18}><I>P</I> = 0.0069</T>
      <L x1={1659} y1={84} x2={1714} y2={84} w={1.8} />
      <T x={1547.8} y={285.7} s={26} r={-90}>CD8<Sup>+</Sup>CAR T cells/</T>
      <T x={1580.4} y={285.7} s={24} r={-90}>tumor (x 10<Sup k={0.8}>5</Sup> )</T>
      {/* f left */}
      <Plot area={[44.8, 383.3, 549.3, 558]} pad={[6, 0, 0, 2]} make={cfgBachTrack} />
      <R x={190.7} y={387.7} w={15.5} h={166.6} stroke="#333" sw={1.6} />
      <R x={304.7} y={387.7} w={8.5} h={166.6} stroke="#333" sw={1.6} />
      <Plot area={[167.9, 585, 549.3, 643.3]} pad={[0, 0, 30, 24]} make={cfgBachLower} />
      <Plot area={[564.7, 386, 602, 559]} pad={[6, 0, 6, 18]} make={cfgViolin(vExpr.bachWt, vExpr.bachKo, -0.134, 3.72)} />
      <T x={2} y={374} s={34}>f</T>
      <T x={18.7} y={473} s={15} r={-90} a="middle">Normalized signal</T>
      <T x={35.2} y={473} s={15} r={-90} a="middle">(range 0 − 1600)</T>
      <T x={58} y={439.3} s={25} c="#6fbf44">WT</T>
      <T x={53.9} y={526.7} s={25} c="#f7963b">FOXP1 KO</T>
      <T x={568.8} y={376} s={25.5} it>Bach2</T>
      <L x1={564.7} y1={383.3} x2={602} y2={383.3} w={1.6} />
      <L x1={583.7} y1={380} x2={583.7} y2={383} w={1} />
      <T x={25.7} y={616} s={14} r={-90}>Genes</T>
      <T x={25.7} y={667} s={14} r={-90}>Peaks</T>
      <L x1={44.8} y1={590} x2={44.8} y2={613.3} w={1.8} />
      <L x1={44.8} y1={631.7} x2={44.8} y2={643.3} w={1.8} />
      <T x={555.6} y={606.7} s={25.5} it>Bach2</T>
      <T x={358.6} y={676} s={14.8} a="middle">chr4 position (bp)</T>
      {/* f right */}
      <Plot area={[696.3, 383.3, 1192.2, 558]} pad={[6, 0, 0, 2]} make={cfgKlfTrack} />
      <Plot area={[812.2, 585, 1192.2, 643.3]} pad={[0, 0, 30, 24]} make={cfgKlfLower} />
      <Plot area={[1207.3, 386, 1245.3, 559]} pad={[6, 0, 6, 18]} make={cfgViolin(vExpr.klfWt, vExpr.klfKo, -0.22, 3.78)} />
      <T x={670.6} y={473} s={15} r={-90} a="middle">Normalized signal</T>
      <T x={687} y={473} s={15} r={-90} a="middle">(range 0 − 2500)</T>
      <T x={707.3} y={439.3} s={25} c="#6fbf44">WT</T>
      <T x={704} y={526.7} s={25} c="#f7963b">FOXP1 KO</T>
      <T x={1218.8} y={376} s={25.4} it>Klf2</T>
      <L x1={1207.3} y1={383.3} x2={1245.3} y2={383.3} w={1.6} />
      <L x1={1226.3} y1={380} x2={1226.3} y2={383} w={1} />
      <T x={677.5} y={616} s={14} r={-90}>Genes</T>
      <T x={677.5} y={667} s={14} r={-90}>Peaks</T>
      <L x1={696.3} y1={590} x2={696.3} y2={613.3} w={1.8} />
      <L x1={696.3} y1={631.7} x2={696.3} y2={643.3} w={1.8} />
      <T x={962.4} y={612.7} s={25.5} it>Klf2</T>
      <T x={1002.4} y={676} s={14.8} a="middle">chr8 position (bp)</T>
      {/* g */}
      <T x={1305} y={375} s={34}>g</T>
      <R x={1307} y={403.6} w={485} h={130.4} stroke="#444" sw={1.5} />
      <L x1={1307} y1={441.8} x2={1792} y2={441.8} w={1.3} c="#444" />
      <T x={1353.9} y={433} s={24} c="#333">Motif</T>
      <T x={1544.5} y={433} s={24} c="#333">Name</T>
      <T x={1652.7} y={433} s={24} c="#333">-log(p value)</T>
      <T x={1547.8} y={472} s={24} c="#333">FOXP1</T>
      <T x={1675} y={472} s={24} c="#333">8.03e+01</T>
      <T x={1547.8} y={507} s={24} c="#333">ETS</T>
      <T x={1677} y={507} s={24} c="#333">1.73e+03</T>
      <Logo x={1334.3} y={451.8} h={25.7} cw={12.96} cols={logoFoxp1} />
      <Logo x={1334.3} y={491} h={25} cw={12.67} cols={logoEts} />
      {/* h */}
      <T x={2} y={749} s={34}>h</T>
      <Plot area={[42.5, 805, 312.5, 1075]} make={cfgPie} />
      {[[174, 810.7, 174, 818.3], [183.2, 813, 183.2, 818], [137.5, 816.7, 137.5, 823], [159.6, 815, 159.6, 819], [272.5, 861.7, 276.8, 857], [299.3, 952.3, 306.4, 953.3], [205.4, 1061.7, 207.9, 1068.3], [53.6, 908.3, 58.9, 907.3]].map((p, i) => (
        <L key={i} x1={p[0]} y1={p[1]} x2={p[2]} y2={p[3]} w={1.2} />
      ))}
      <T x={159} y={797.7} s={19.5}>1%</T>
      <T x={181.4} y={813.3} s={19.5}>2%</T>
      <T x={110.7} y={820.7} s={19.5}>3%</T>
      <T x={136.8} y={815} s={19.5}>3%</T>
      <T x={277} y={861.7} s={19.5}>25%</T>
      <T x={309} y={961.7} s={19.5}>1%</T>
      <T x={206.4} y={1078} s={19.5}>38%</T>
      <T x={16.8} y={912.7} s={19.5}>28%</T>
      {legendOrder.map((k, i) => (
        <React.Fragment key={k}>
          <R x={355.4} y={835.2 + i * 25.43} w={13} h={13} fill={pieColors[k]} />
          <T x={375} y={848.3 + i * 25.43} s={22.7} c="#222">{pieLabels[k]}</T>
        </React.Fragment>
      ))}
      {/* i */}
      <T x={574.7} y={749} s={34}>i</T>
      <IgvBack x1={678} x2={1157.2} y1={746} y2={779.3} lx={788.7} ly={796} bx1={677} bx2={1159} bt={796} bb={891.7} />
      <IgvBack x1={681.5} x2={1123.6} y1={956} y2={988.3} lx={788.7} ly={1003.7} bx1={677} bx2={1123.6} bt={1003.7} bb={1099} top />
      <IgvBack x1={1315.3} x2={1792.3} y1={750} y2={783.3} lx={1407.9} ly={798} bx1={1316.5} bx2={1792.3} bt={798} bb={893.3} />
      <IgvBack x1={1316.5} x2={1797} y1={956} y2={990} lx={1396} ly={1005.7} bx1={1316.5} bx2={1799} bt={1005.7} bb={1101} top />
      <Plot area={AREA_I.bach} make={cfgIBach} />
      <Plot area={AREA_I.fasl} make={cfgIFasl} />
      <Plot area={AREA_I.sell} make={cfgISell} />
      <Plot area={AREA_I.klf} make={cfgIKlf} />
      <R x={676.8} y={796} w={482.4} h={95.7} stroke="#555" sw={1.5} />
      <R x={676.8} y={1003.7} w={482.4} h={95.3} stroke="#555" sw={1.5} />
      <R x={1316.5} y={798} w={475.8} h={95.3} stroke="#555" sw={1.5} />
      <R x={1316.5} y={1005.7} w={482.5} h={95.3} stroke="#555" sw={1.5} />
      <IgvLabels nx={692.6} ny={787.3} name="Bach2" lx={589} fy={834} iy={877.3} tx={678.7} ty={811.7} />
      <IgvLabels nx={692.6} ny={996} name="Fasl" lx={589} fy={1041.7} iy={1085} tx={680.7} ty={1019} />
      <IgvLabels nx={1332} ny={788.3} name="Sell" lx={1228} fy={835} iy={878.3} tx={1317.6} ty={813.3} />
      <IgvLabels nx={1332} ny={996} name="Klf2" lx={1228} fy={1041.7} iy={1085.7} tx={1320.3} ty={1030} />
      <T x={1075.3} y={912.7} s={17.4} c="#333">100 kb</T>
      <T x={1063} y={1120.7} s={17.4} c="#333">5 kb</T>
      <T x={1732.8} y={912.3} s={17.4} c="#333">5 kb</T>
      <T x={1747.2} y={1120.7} s={17.4} c="#333">1 kb</T>
      {/* j */}
      <T x={4} y={1178.5} s={34}>j</T>
      <T x={32.7} y={1207} s={26} c="#e8232a">FOXP1 ChIP binding genes</T>
      <T x={396} y={1207} s={25.5} c="#2f7ec1">DE genes</T>
      <Plot area={[120, 1200, 500, 1560]} make={cfgVenn} />
      <T x={237.6} y={1572} s={24} c="#4bb04a">Genes with DA peaks</T>
      {[[209.7, 1307.7], [314, 1278.5], [422, 1307.7], [313.4, 1369.8], [235.2, 1415.8], [390.8, 1415.8], [314, 1495.3]].map((p, i) => (
        <T key={i} x={p[0]} y={p[1]} s={22} a="middle" c="#111">{vennCounts[i]}</T>
      ))}
    </div>
  );
}
